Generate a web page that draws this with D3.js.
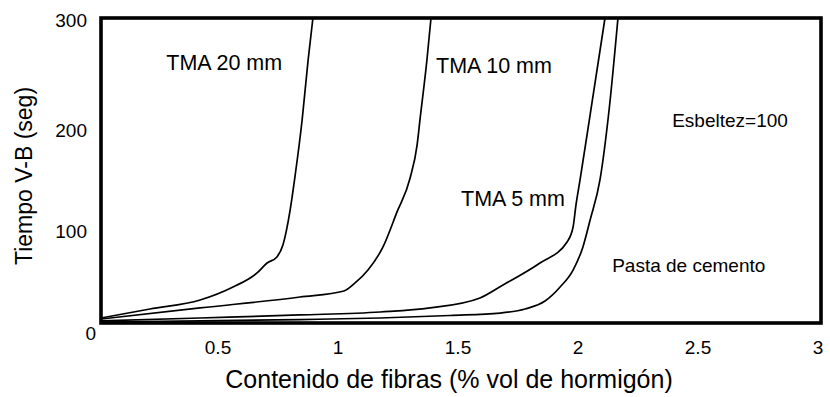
<!DOCTYPE html>
<html>
<head>
<meta charset="utf-8">
<script src="https://cdn.jsdelivr.net/npm/d3@7"></script>
<style>
body { margin: 0; background: #fff; }
text { font-family: "Liberation Sans", Arial, sans-serif; fill: #000; }
</style>
</head>
<body>
<div id="graphArea"></div>
<script>
// valores (x = % vol, y = seg)
var xTicks = [0.5, 1, 1.5, 2, 2.5, 3];
var yTicks = [0, 100, 200, 300];

var tma20X = [0, 0.204, 0.413, 0.55, 0.65, 0.692, 0.733, 0.758, 0.788, 0.808, 0.838, 0.863, 0.883];
var tma20Y = [4.9, 13.8, 22.6, 35.4, 49.2, 59, 65, 76.7, 111, 143.6, 199.7, 258.7, 300];

var tma10X = [0, 0.413, 0.829, 1.0125, 1.054, 1.1125, 1.175, 1.233, 1.288, 1.317, 1.329, 1.358, 1.375];
var tma10Y = [3.9, 14.8, 25.6, 31.5, 38.4, 52.1, 74.8, 109, 142.6, 175, 199.7, 258.7, 300];

var tma5X = [0, 0.413, 0.829, 1.163, 1.371, 1.579, 1.675, 1.829, 1.942, 1.967, 1.979, 1.996, 2.038, 2.1];
var tma5Y = [2, 4.9, 7.9, 10.8, 14.8, 24.6, 37.4, 59, 79.7, 94.4, 116, 140.7, 204.6, 300];

var pastaX = [0, 0.413, 0.829, 1.163, 1.454, 1.663, 1.767, 1.85, 1.913, 1.967, 2.008, 2.038, 2.079, 2.117, 2.154];
var pastaY = [1, 2, 3.4, 4.9, 7.4, 9.8, 13.8, 21.6, 35.4, 52.1, 74.8, 101.3, 140.7, 209.5, 300];

var seriesX = [tma20X, tma10X, tma5X, pastaX];
var seriesY = [tma20Y, tma10Y, tma5Y, pastaY];

var labels = [
  ["TMA 20 mm", 0.272, 249, 21.5],
  ["TMA 10 mm", 1.396, 246, 21.5],
  ["TMA 5 mm", 1.5, 115, 21.5],
  ["Esbeltez=100", 2.38, 193, 19],
  ["Pasta de cemento", 2.13, 50, 19]
];

var W = 830, H = 397;
var padL = 101, padR = 821, padT = 18, padB = 323;

var svg = d3.select("#graphArea").append("svg")
  .attr("width", W)
  .attr("height", H);

var x = d3.scaleLinear().domain([0, 3]).range([padL, padR]);
var y = d3.scaleLinear().domain([0, 300]).range([padB, padT]);

var line = d3.line()
  .x(function(d) { return x(d[0]); })
  .y(function(d) { return y(d[1]); })
  .curve(d3.curveMonotoneX);

seriesX.forEach(function(xs, i) {
  var pts = xs.map(function(v, j) { return [v, seriesY[i][j]]; });
  svg.append("path")
    .datum(pts)
    .attr("d", line)
    .attr("fill", "none")
    .attr("stroke", "#000")
    .attr("stroke-width", 1.7);
});

// marco
svg.append("rect")
  .attr("x", x(0))
  .attr("y", y(300))
  .attr("width", x(3) - x(0))
  .attr("height", y(0) - y(300))
  .attr("fill", "none")
  .attr("stroke", "#000")
  .attr("stroke-width", 3.6);

svg.selectAll(".xt")
  .data(xTicks)
  .enter()
  .append("text")
    .attr("x", function(d) { return x(d) - 3; })
    .attr("y", padB + 31)
    .attr("text-anchor", "middle")
    .style("font-size", "19px")
    .text(function(d) { return d; });

svg.selectAll(".yt")
  .data(yTicks)
  .enter()
  .append("text")
    .attr("x", function(d) { return d === 0 ? padL - 5 : padL - 14; })
    .attr("y", function(d) { return d === 300 ? y(d) + 9 : y(d) + 17; })
    .attr("text-anchor", "end")
    .style("font-size", "19px")
    .text(function(d) { return d; });

svg.append("text")
  .attr("x", 449)
  .attr("y", 388)
  .attr("text-anchor", "middle")
  .style("font-size", "25px")
  .text("Contenido de fibras (% vol de hormigón)");

svg.append("text")
  .attr("transform", "translate(32,176)rotate(-90)")
  .attr("text-anchor", "middle")
  .style("font-size", "23px")
  .text("Tiempo V-B (seg)");

svg.selectAll(".lab")
  .data(labels)
  .enter()
  .append("text")
    .attr("x", function(d) { return x(d[1]); })
    .attr("y", function(d) { return y(d[2]); })
    .style("font-size", function(d) { return d[3] + "px"; })
    .text(function(d) { return d[0]; });
</script>
</body>
</html>
